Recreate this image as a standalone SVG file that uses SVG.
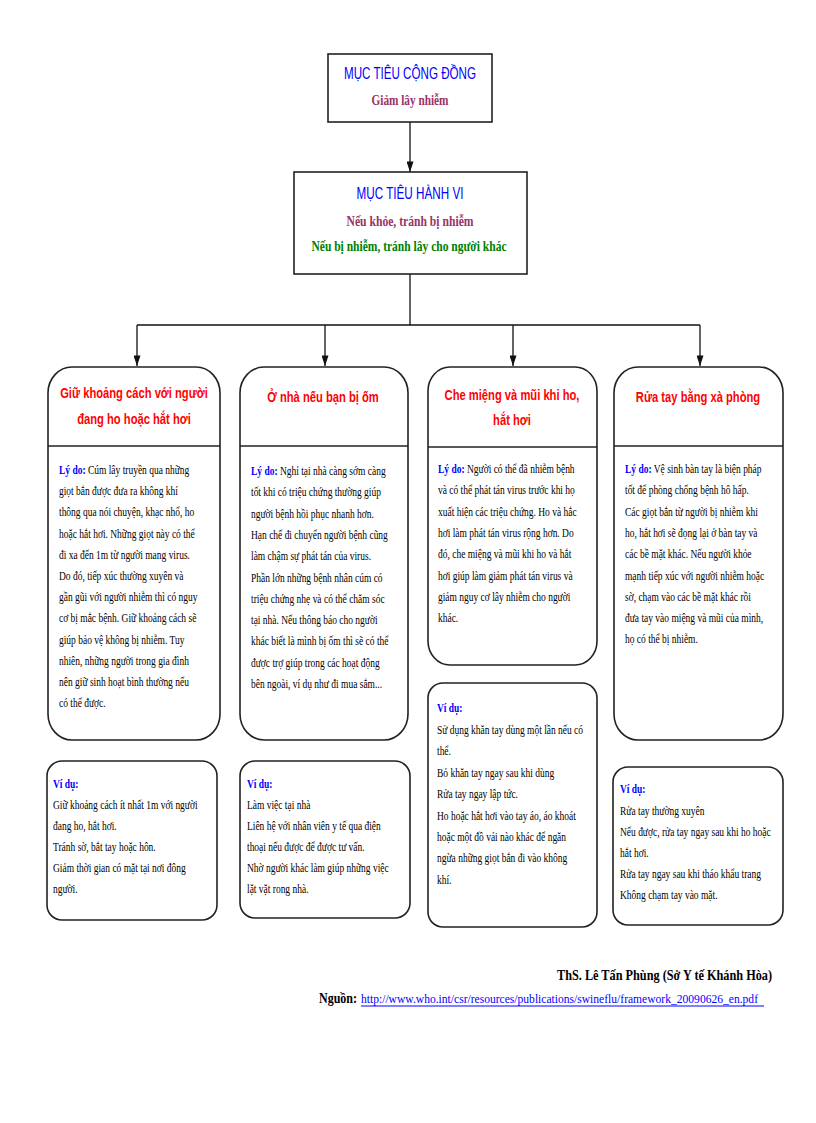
<svg xmlns="http://www.w3.org/2000/svg" width="816" height="1123" viewBox="0 0 816 1123">
<style>
.box{fill:#fff;stroke:#222;stroke-width:1.6}
.conn{fill:none;stroke:#111;stroke-width:1.3}
.t{font-family:"Liberation Serif","Times New Roman",serif;font-size:12px;fill:#000}
.lbl{fill:#0000ff;font-weight:bold}
.h{font-family:"Liberation Sans",Arial,sans-serif;font-size:14px;font-weight:bold;fill:#ff0000;text-anchor:middle}
.ttl{font-family:"Liberation Sans",Arial,sans-serif;font-size:16px;fill:#0000ff;text-anchor:middle}
.sub{font-family:"Liberation Serif","Times New Roman",serif;font-size:14px;font-weight:bold;text-anchor:middle}
.ft{font-family:"Liberation Serif","Times New Roman",serif;font-size:14px}
</style>
<defs>
<marker id="ah" viewBox="0 0 12 8" refX="12" refY="4" markerWidth="12" markerHeight="7" markerUnits="userSpaceOnUse" orient="auto">
<path d="M0,0 L12,4 L0,8 z" fill="#111"/>
</marker>
</defs>
<rect width="816" height="1123" fill="#fff"/>

<g id="connectors">
<line class="conn" x1="410" y1="122" x2="410" y2="172" marker-end="url(#ah)"/>
<polyline class="conn" points="410,274 410,325"/>
<polyline class="conn" points="137,325 700,325"/>
<line class="conn" x1="137" y1="325" x2="137" y2="366" marker-end="url(#ah)"/>
<line class="conn" x1="325" y1="325" x2="325" y2="366" marker-end="url(#ah)"/>
<line class="conn" x1="513" y1="325" x2="513" y2="366" marker-end="url(#ah)"/>
<line class="conn" x1="700" y1="325" x2="700" y2="366" marker-end="url(#ah)"/>
</g>

<g id="goal-community">
<rect class="box" x="328" y="54" width="164" height="68"/>
<text class="ttl" x="410" y="79" textLength="132" lengthAdjust="spacingAndGlyphs">MỤC TIÊU CỘNG ĐỒNG</text>
<text class="sub" x="410" y="105" fill="#993366" textLength="77" lengthAdjust="spacingAndGlyphs">Giảm  lây nhiễm</text>
</g>

<g id="goal-behavior">
<rect class="box" x="294" y="172" width="233" height="102"/>
<text class="ttl" x="410" y="199" textLength="107" lengthAdjust="spacingAndGlyphs">MỤC TIÊU HÀNH VI</text>
<text class="sub" x="410" y="226" fill="#993366" textLength="127" lengthAdjust="spacingAndGlyphs">Nếu khỏe, tránh  bị nhiễm</text>
<text class="sub" x="409" y="251" fill="#008000" textLength="195" lengthAdjust="spacingAndGlyphs">Nếu bị nhiễm,  tránh  lây cho người khác</text>
</g>

<g id="col1">
<rect class="box" x="48" y="367" width="172" height="373" rx="24" ry="26"/>
<line class="box" x1="48" y1="446" x2="220" y2="446"/>
<g transform="translate(134 0) scale(0.8 1)">
<text class="h" x="0" y="398">Giữ khoảng cách với người</text>
<text class="h" x="0" y="424">đang ho hoặc hắt hơi</text>
</g>
<g transform="translate(59 0) scale(0.79 1)">
<text class="t" x="0" y="474"><tspan class="lbl">Lý do:</tspan> Cúm lây truyền qua những</text>
<text class="t" x="0" y="495">giọt bắn được đưa ra không khí</text>
<text class="t" x="0" y="516">thông qua nói chuyện, khạc nhổ, ho</text>
<text class="t" x="0" y="538">hoặc hắt hơi. Những giọt này có thể</text>
<text class="t" x="0" y="559">đi xa đến 1m  từ người mang virus.</text>
<text class="t" x="0" y="580">Do đó, tiếp xúc  thường xuyên và</text>
<text class="t" x="0" y="601">gần gũi với người nhiễm  thì có nguy</text>
<text class="t" x="0" y="622">cơ bị mắc  bệnh. Giữ khoảng cách sẽ</text>
<text class="t" x="0" y="644">giúp bảo vệ không bị nhiễm.  Tuy</text>
<text class="t" x="0" y="665">nhiên, những người trong gia đình</text>
<text class="t" x="0" y="686">nên giữ sinh hoạt bình thường nếu</text>
<text class="t" x="0" y="707">có thể được.</text>
</g>
</g>

<g id="col2">
<rect class="box" x="240" y="367" width="168" height="373" rx="24" ry="26"/>
<line class="box" x1="240" y1="446" x2="408" y2="446"/>
<g transform="translate(323 0) scale(0.8 1)">
<text class="h" x="0" y="402">Ở nhà nếu bạn bị ốm</text>
</g>
<g transform="translate(251 0) scale(0.79 1)">
<text class="t" x="0" y="475"><tspan class="lbl">Lý do:</tspan>  Nghỉ tại nhà càng sớm càng</text>
<text class="t" x="0" y="496">tốt khi có triệu chứng thường giúp</text>
<text class="t" x="0" y="518">người bệnh hồi phục nhanh hơn.</text>
<text class="t" x="0" y="539">Hạn chế đi chuyển người bệnh cũng</text>
<text class="t" x="0" y="560">làm  chậm sự phát tán của virus.</text>
<text class="t" x="0" y="582">Phần lớn những bệnh nhân cúm có</text>
<text class="t" x="0" y="603">triệu chứng nhẹ và có thể chăm sóc</text>
<text class="t" x="0" y="624">tại nhà. Nếu thông báo cho người</text>
<text class="t" x="0" y="645">khác biết là mình  bị ốm thì sẽ có thể</text>
<text class="t" x="0" y="667">được trợ giúp trong các hoạt động</text>
<text class="t" x="0" y="688">bên ngoài, ví dụ như đi mua sắm...</text>
</g>
</g>

<g id="col3">
<rect class="box" x="428" y="367" width="169" height="298" rx="22" ry="24"/>
<line class="box" x1="428" y1="447" x2="597" y2="447"/>
<g transform="translate(512 0) scale(0.8 1)">
<text class="h" x="0" y="400">Che miệng và mũi khi ho,</text>
<text class="h" x="0" y="425">hắt hơi</text>
</g>
<g transform="translate(438 0) scale(0.79 1)">
<text class="t" x="0" y="473"><tspan class="lbl">Lý do:</tspan>  Người có thể đã nhiễm bệnh</text>
<text class="t" x="0" y="494">và có thể phát tán virus trước khi họ</text>
<text class="t" x="0" y="516">xuất hiện các triệu chứng. Ho và hắc</text>
<text class="t" x="0" y="537">hơi làm phát tán virus rộng hơn. Do</text>
<text class="t" x="0" y="558">đó, che miệng và mũi khi ho và hắt</text>
<text class="t" x="0" y="580">hơi giúp làm  giảm phát tán virus và</text>
<text class="t" x="0" y="601">giảm  nguy cơ lây nhiễm  cho người</text>
<text class="t" x="0" y="622">khác.</text>
</g>
</g>

<g id="col4">
<rect class="box" x="614" y="367" width="169" height="373" rx="24" ry="26"/>
<line class="box" x1="614" y1="446" x2="783" y2="446"/>
<g transform="translate(698 0) scale(0.8 1)">
<text class="h" x="0" y="402">Rửa tay bằng xà phòng</text>
</g>
<g transform="translate(625 0) scale(0.79 1)">
<text class="t" x="0" y="473"><tspan class="lbl">Lý do:</tspan>  Vệ  sinh bàn tay là biện pháp</text>
<text class="t" x="0" y="494">tốt để phòng chống bệnh hô hấp.</text>
<text class="t" x="0" y="516">Các giọt bắn từ người bị nhiễm  khi</text>
<text class="t" x="0" y="537">ho, hắt hơi sẽ đọng lại ở bàn tay và</text>
<text class="t" x="0" y="558">các bề mặt khác. Nếu người khỏe</text>
<text class="t" x="0" y="580">mạnh tiếp xúc  với người nhiễm  hoặc</text>
<text class="t" x="0" y="601">sờ, chạm vào các bề mặt khác rồi</text>
<text class="t" x="0" y="622">đưa tay vào miệng  và mũi  của mình,</text>
<text class="t" x="0" y="643">họ có thể bị nhiễm.</text>
</g>
</g>

<g id="ex1">
<rect class="box" x="47" y="761" width="170" height="159" rx="15"/>
<g transform="translate(53 0) scale(0.79 1)">
<text class="t lbl" x="0" y="788">Ví dụ:</text>
<text class="t" x="0" y="809">Giữ khoảng cách ít nhất 1m  với người</text>
<text class="t" x="0" y="830">đang ho, hắt hơi.</text>
<text class="t" x="0" y="851">Tránh sờ, bắt tay hoặc hôn.</text>
<text class="t" x="0" y="872">Giảm  thời gian có mặt tại nơi đông</text>
<text class="t" x="0" y="893">người.</text>
</g>
</g>

<g id="ex2">
<rect class="box" x="240" y="761" width="170" height="157" rx="15"/>
<g transform="translate(247 0) scale(0.79 1)">
<text class="t lbl" x="0" y="788">Ví dụ:</text>
<text class="t" x="0" y="809">Làm  việc tại nhà</text>
<text class="t" x="0" y="830">Liên  hệ với nhân viên y tế qua điện</text>
<text class="t" x="0" y="851">thoại nếu được để được tư vấn.</text>
<text class="t" x="0" y="872">Nhờ người khác làm  giúp những việc</text>
<text class="t" x="0" y="893">lặt vặt rong nhà.</text>
</g>
</g>

<g id="ex3">
<rect class="box" x="428" y="683" width="169" height="244" rx="15"/>
<g transform="translate(437 0) scale(0.79 1)">
<text class="t lbl" x="0" y="712">Ví dụ:</text>
<text class="t" x="0" y="734">Sử dụng khăn tay dùng một lần nếu có</text>
<text class="t" x="0" y="755">thể.</text>
<text class="t" x="0" y="777">Bỏ khăn tay ngay sau khi dùng</text>
<text class="t" x="0" y="798">Rửa  tay ngay lập tức.</text>
<text class="t" x="0" y="820">Ho hoặc hắt hơi vào tay áo, áo khoát</text>
<text class="t" x="0" y="841">hoặc một đồ vải nào khác để ngăn</text>
<text class="t" x="0" y="862">ngừa những giọt bắn đi vào không</text>
<text class="t" x="0" y="884">khí.</text>
</g>
</g>

<g id="ex4">
<rect class="box" x="613" y="767" width="170" height="158" rx="15"/>
<g transform="translate(620 0) scale(0.79 1)">
<text class="t lbl" x="0" y="793">Ví dụ:</text>
<text class="t" x="0" y="815">Rửa tay thường xuyên</text>
<text class="t" x="0" y="836">Nếu được, rửa tay ngay sau khi ho hoặc</text>
<text class="t" x="0" y="857">hắt hơi.</text>
<text class="t" x="0" y="878">Rửa tay ngay sau khi tháo khẩu trang</text>
<text class="t" x="0" y="899">Không chạm tay vào mặt.</text>
</g>
</g>

<g id="footer">
<text class="ft" x="557" y="980" font-weight="bold" textLength="215" lengthAdjust="spacingAndGlyphs">ThS. Lê Tấn Phùng (Sở Y tế Khánh Hòa)</text>
<text class="ft" x="319" y="1003" font-weight="bold" textLength="38" lengthAdjust="spacingAndGlyphs">Nguồn:</text>
<text x="361" y="1003" fill="#0000ff" font-family="Liberation Serif, Times New Roman, serif" font-size="13" textLength="397" lengthAdjust="spacingAndGlyphs">http://www.who.int/csr/resources/publications/swineflu/framework_20090626_en.pdf</text>
<line x1="361" y1="1006" x2="764" y2="1006" stroke="#0000ff" stroke-width="1"/>
</g>
</svg>
